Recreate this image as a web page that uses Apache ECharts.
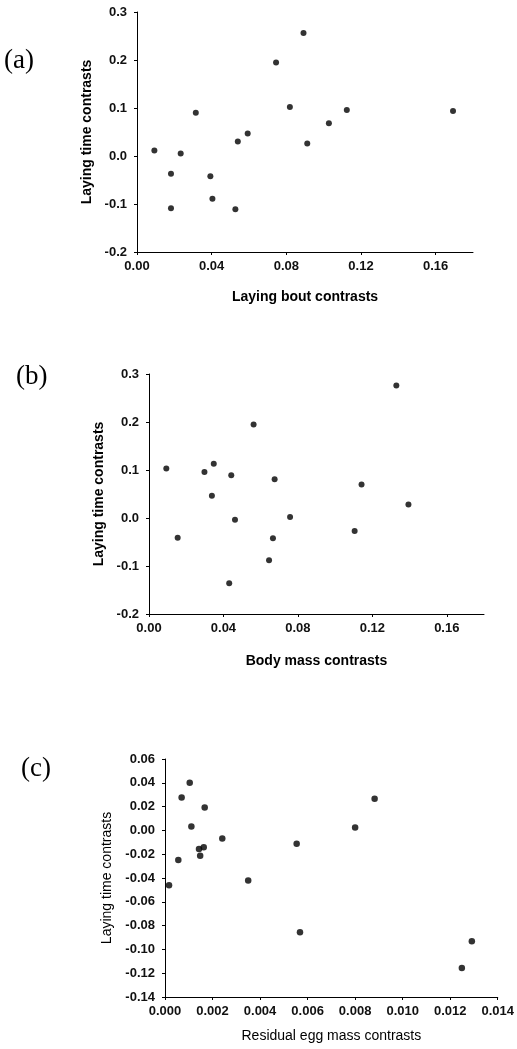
<!DOCTYPE html>
<html>
<head>
<meta charset="utf-8">
<script src="https://cdn.jsdelivr.net/npm/echarts@6/dist/echarts.min.js"></script>
<style>html,body{margin:0;padding:0;background:#fff;}#c{width:517px;height:1049px;}</style>
</head>
<body>
<div id="c"></div>
<script>
// Panel (a): laying bout contrasts vs laying time contrasts
const aX = [0.0093,0.0182,0.0182,0.0234,0.0315,0.0393,0.0404,0.0527,0.0540,0.0593,0.0745,0.0819,0.0892,0.0912,0.1028,0.1124,0.1693];
const aY = [0.0115,-0.037,-0.109,0.005,0.090,-0.042,-0.089,-0.111,0.030,0.047,0.195,0.102,0.256,0.026,0.068,0.096,0.094];
// Panel (b): body mass contrasts vs laying time contrasts
const bX = [0.0093,0.0154,0.0298,0.0348,0.0338,0.0442,0.0431,0.0462,0.0562,0.0645,0.0666,0.0675,0.0758,0.1105,0.1142,0.1329,0.1394];
const bY = [0.103,-0.041,0.096,0.113,0.0465,0.089,-0.136,-0.0035,0.195,-0.088,-0.042,0.0806,0.002,-0.027,0.070,0.276,0.028];
// Panel (c): residual egg mass contrasts vs laying time contrasts
const cX = [0.00017,0.00056,0.0007,0.00104,0.00111,0.00143,0.00148,0.00163,0.00167,0.00241,0.0035,0.00554,0.00568,0.0080,0.00882,0.01249,0.01291];
const cY = [-0.046,-0.0248,0.0276,0.040,0.0033,-0.0156,-0.0212,-0.0142,0.0193,-0.0069,-0.042,-0.0113,-0.0855,0.0024,0.0266,-0.1156,-0.0931];

// Tick values
const abXTicks = [0, 0.04, 0.08, 0.12, 0.16];
const abYTicks = [-0.2, -0.1, 0, 0.1, 0.2, 0.3];
const cXTicks = [0, 0.002, 0.004, 0.006, 0.008, 0.010, 0.012, 0.014];
const cYTicks = [-0.14, -0.12, -0.10, -0.08, -0.06, -0.04, -0.02, 0, 0.02, 0.04, 0.06];

const panelLabels = ['(a)', '(b)', '(c)'];
const xNames = ['Laying bout contrasts', 'Body mass contrasts', 'Residual egg mass contrasts'];
const yName = 'Laying time contrasts';

const SANS = '"Liberation Sans", Arial, sans-serif';
const SERIF = '"Liberation Serif", "Times New Roman", serif';

function zip(xs, ys) { return xs.map((x, i) => [x, ys[i]]); }

function xAxis(idx, min, max, ticks, dec, name, bold, gap) {
  return {
    type: 'value', gridIndex: idx, min: min, max: max,
    name: name, nameLocation: 'middle', nameGap: gap,
    nameTextStyle: { fontFamily: SANS, fontSize: 14, fontWeight: bold ? 'bold' : 'normal', color: '#000' },
    axisLine: { show: true, onZero: false, lineStyle: { color: '#000', width: 1 } },
    axisTick: { show: true, length: 3, lineStyle: { color: '#000' }, customValues: ticks },
    axisLabel: { customValues: ticks, margin: 8, fontFamily: SANS, fontSize: 13, fontWeight: 'bold', color: '#111',
      formatter: v => v.toFixed(dec) },
    splitLine: { show: false }
  };
}
function yAxis(idx, min, max, ticks, dec, bold, gap) {
  return {
    type: 'value', gridIndex: idx, min: min, max: max,
    name: yName, nameLocation: 'middle', nameGap: gap,
    nameTextStyle: { fontFamily: SANS, fontSize: 14, fontWeight: bold ? 'bold' : 'normal', color: '#000' },
    axisLine: { show: true, onZero: false, lineStyle: { color: '#000', width: 1 } },
    axisTick: { show: true, length: 3, lineStyle: { color: '#000' }, customValues: ticks },
    axisLabel: { customValues: ticks, margin: 10, fontFamily: SANS, fontSize: 13, fontWeight: 'bold', color: '#111',
      formatter: v => v.toFixed(dec) },
    splitLine: { show: false }
  };
}

const titleStyle = { fontFamily: SERIF, fontSize: 27, fontWeight: 'normal', color: '#000' };

const option = {
  backgroundColor: '#fff',
  animation: false,
  title: [
    { text: panelLabels[0], left: 4, top: 47, padding: 0, textStyle: titleStyle },
    { text: panelLabels[1], left: 16, top: 363, padding: 0, textStyle: titleStyle },
    { text: panelLabels[2], left: 21, top: 755, padding: 0, textStyle: titleStyle }
  ],
  grid: [
    { left: 137, top: 12, width: 336, height: 240 },
    { left: 149, top: 374, width: 335, height: 240 },
    { left: 165, top: 759, width: 336, height: 238 }
  ],
  xAxis: [
    xAxis(0, 0, 0.18, abXTicks, 2, xNames[0], true, 38),
    xAxis(1, 0, 0.18, abXTicks, 2, xNames[1], true, 40),
    xAxis(2, 0, 0.014, cXTicks, 3, xNames[2], false, 32)
  ],
  yAxis: [
    yAxis(0, -0.2, 0.3, abYTicks, 1, true, 40),
    yAxis(1, -0.2, 0.3, abYTicks, 1, true, 42),
    yAxis(2, -0.14, 0.06, cYTicks, 2, false, 46)
  ],
  series: [
    { type: 'scatter', xAxisIndex: 0, yAxisIndex: 0, data: zip(aX, aY), symbolSize: 6, itemStyle: { color: '#000' } },
    { type: 'scatter', xAxisIndex: 1, yAxisIndex: 1, data: zip(bX, bY), symbolSize: 6, itemStyle: { color: '#000' } },
    { type: 'scatter', xAxisIndex: 2, yAxisIndex: 2, data: zip(cX, cY), symbolSize: 6.5, itemStyle: { color: '#000' } }
  ]
};

const chart = echarts.init(document.getElementById('c'), null, { renderer: 'canvas' });
chart.setOption(option);
</script>
</body>
</html>
